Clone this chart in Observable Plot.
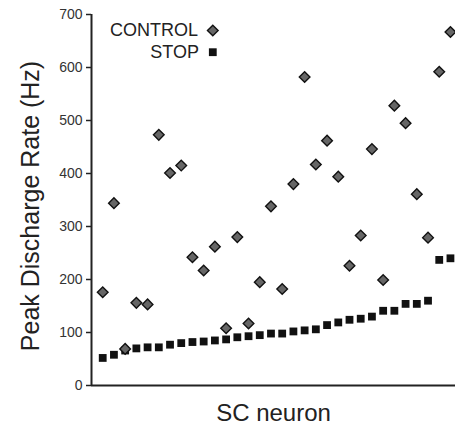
<!DOCTYPE html>
<html>
<head>
<meta charset="utf-8">
<script src="https://cdn.jsdelivr.net/npm/d3@7"></script>
<script src="https://cdn.jsdelivr.net/npm/@observablehq/plot@0.6"></script>
<style>
  html, body { margin: 0; padding: 0; background: #fff; }
  #chart svg { display: block; overflow: visible; }
</style>
</head>
<body>
<div id="chart"></div>
<script>
const neurons = [1,2,3,4,5,6,7,8,9,10,11,12,13,14,15,16,17,18,19,20,21,22,23,24,25,26,27,28,29,30,31,32];
const control = [176,344,69,156,153,473,401,415,242,217,262,108,280,117,195,338,182,380,582,417,462,394,226,283,446,199,528,495,361,279,592,667];
const stop = [52,58,66,70,72,72,77,80,82,83,85,87,91,93,95,98,98,102,104,106,114,119,124,126,130,141,141,154,154,160,237,240];
const yTicks = [0,100,200,300,400,500,600,700];
const yTitle = "Peak Discharge Rate (Hz)";
const xTitle = "SC neuron";
const legendLabels = ["CONTROL", "STOP"];

const controlData = neurons.map((n, i) => ({neuron: n, rate: control[i]}));
const stopData = neurons.map((n, i) => ({neuron: n, rate: stop[i]}));

const font = "'Liberation Sans', Arial, Helvetica, sans-serif";

const chart = Plot.plot({
  width: 455,
  height: 427,
  marginLeft: 91,
  marginRight: 0,
  marginTop: 14,
  marginBottom: 42,
  style: {fontFamily: font, background: "#fff", color: "#222"},
  x: {domain: [0, 32.45], axis: null},
  y: {domain: [0, 700]},
  marks: [
    Plot.axisY({ticks: yTicks, tickSize: 5, tickPadding: 4, fontSize: 14, label: null, stroke: "#222", strokeWidth: 1.5, color: "#333", tickFormat: d => String(d)}),
    Plot.ruleY([0], {stroke: "#222", strokeWidth: 2}),
    Plot.ruleX([0], {stroke: "#222", strokeWidth: 2}),
    Plot.dot(stopData, {x: "neuron", y: "rate", symbol: "square", r: 4.4, fill: "#111", stroke: "none"}),
    Plot.dot(controlData, {x: "neuron", y: "rate", symbol: "diamond2", r: 4.8, fill: "#666", stroke: "#111", strokeWidth: 1.4}),
    // axis titles
    Plot.text([yTitle], {frameAnchor: "left", rotate: -90, dx: -61, dy: 6, fontSize: 25, fill: "#222", textAnchor: "middle", lineAnchor: "middle"}),
    Plot.text([xTitle], {frameAnchor: "bottom", dy: 28, fontSize: 24, fill: "#222", textAnchor: "middle", lineAnchor: "middle"}),
    // legend
    Plot.text([legendLabels[0]], {frameAnchor: "top-left", dx: 106.5, dy: 16, fontSize: 18, fill: "#222", textAnchor: "end", lineAnchor: "middle"}),
    Plot.text([legendLabels[1]], {frameAnchor: "top-left", dx: 107.5, dy: 37.5, fontSize: 18, fill: "#222", textAnchor: "end", lineAnchor: "middle"}),
    Plot.dot([legendLabels[0]], {frameAnchor: "top-left", dx: 121.3, dy: 16, symbol: "diamond2", r: 4.8, fill: "#666", stroke: "#111", strokeWidth: 1.4}),
    Plot.dot([legendLabels[1]], {frameAnchor: "top-left", dx: 121.3, dy: 37.7, symbol: "square", r: 4.4, fill: "#111", stroke: "none"})
  ]
});
document.getElementById("chart").appendChild(chart);
</script>
</body>
</html>
